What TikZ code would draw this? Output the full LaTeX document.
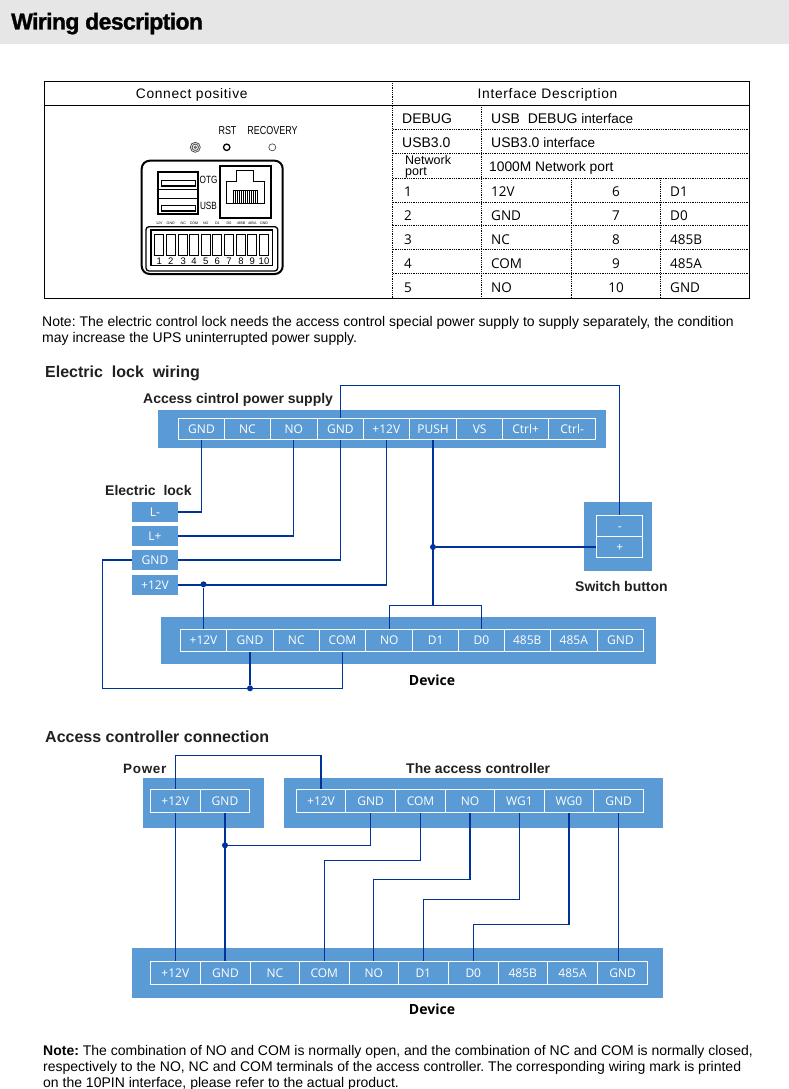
\documentclass[tikz,border=0pt]{standalone}
\usepackage{fontspec}
\setmainfont{Liberation Sans}
\newfontfamily\cellfont{Open Sans}
\newfontfamily\spacedfont[LetterSpace=5]{Liberation Sans}
\newfontfamily\narrowfont[FakeStretch=0.78]{Liberation Sans}
\newfontfamily\titlefont[LetterSpace=-2.7,BoldFeatures={FakeBold=1.2}]{Liberation Sans}
\definecolor{stripblue}{HTML}{5B9BD5}
\definecolor{wireblue}{HTML}{003399}
\definecolor{headgray}{HTML}{E6E6E6}
\definecolor{inkgray}{HTML}{231F20}
\tikzset{
  strip/.style={fill=stripblue,draw=none},
  cell/.style={draw=white,line width=0.8pt,fill=stripblue,text=white,inner sep=0pt,text height=8.7pt,text depth=0pt,font=\cellfont\fontsize{12}{12}\selectfont},
  wire/.style={draw=wireblue,line width=1.2pt},
  junction/.style={circle,fill=wireblue,inner sep=0pt,minimum size=6pt},
  txt/.style={anchor=base west,inner sep=0pt,text=black,font=\fontsize{14}{15}\selectfont},
  hd/.style={anchor=base west,inner sep=0pt,text=inkgray,font=\bfseries\fontsize{16}{17}\selectfont},
  sub/.style={anchor=base west,inner sep=0pt,text=inkgray,font=\bfseries\fontsize{14}{15}\selectfont},
  devlabel/.style={anchor=base,inner sep=0pt,text=black,font=\cellfont\bfseries\fontsize{14}{15}\selectfont},
  tabcell/.style={anchor=base west,inner sep=0pt,text=black,font=\fontsize{14}{15}\selectfont},
  tabseg/.style={anchor=base west,inner sep=0pt,text=black,font=\cellfont\fontsize{13.5}{15}\selectfont},
  rule/.style={draw=black,line width=0.8pt,densely dotted},
  panel/.style={draw=black,line width=2pt},
  tiny/.style={inner sep=0pt,text=black,font=\fontsize{3.6}{4}\selectfont},
}
\begin{document}
\frenchspacing
\begin{tikzpicture}[x=1pt,y=-1pt]
\useasboundingbox (0,0) rectangle (789,1089);
\fill[headgray] (0,0) rectangle (789,44);
\node[anchor=base west,inner sep=0pt,font=\titlefont\bfseries\fontsize{23}{25}\selectfont] (title) at (11,29.5) {Wiring description};

% table
\draw[black,line width=0.8pt] (44.3,81.3) rectangle (749.3,298);
\draw[black,line width=0.8pt] (44.3,105.3) -- (749.3,105.3);
\draw[rule] (392.7,81.3) -- (392.7,298);
\draw[rule] (481.7,105.3) -- (481.7,298);
\draw[rule] (571.3,178.3) -- (571.3,298);
\draw[rule] (660.7,178.3) -- (660.7,298);
\foreach \y in {129.3,153.3,178.3,202.3,225.7,249.3,273.7}
  \draw[rule] (392.7,\y) -- (749.3,\y);
\node[anchor=base,inner sep=0pt,font=\spacedfont\fontsize{13.8}{15}\selectfont] (headA) at (191.7,98.3) {Connect positive};
\node[anchor=base,inner sep=0pt,font=\spacedfont\fontsize{13.8}{15}\selectfont] (headB) at (547.5,98.3) {Interface Description};
\node[tabcell] (debugA) at (402,123.5) {DEBUG};
\node[tabcell] (debugB) at (491,123.5) {USB\ \ DEBUG {\fontsize{13.5}{15}\selectfont interface}};
\node[tabcell] (usbA) at (402,147.5) {USB3.0};
\node[tabcell] (usbB) at (491,147.5) {USB3.0 {\fontsize{13.5}{15}\selectfont interface}};
\node[tabcell,font=\fontsize{12.5}{13}\selectfont] (netA) at (405,164.5) {Network};
\node[tabcell,font=\fontsize{12.5}{13}\selectfont] (netB) at (405,175.5) {port};
\node[tabcell,font=\fontsize{13.8}{15}\selectfont] (netC) at (489,171.5) {1000M Network port};
\foreach \n/\y/\a/\m/\b in {1/196/12V/6/D1,2/220/GND/7/D0,3/244/NC/8/485B,4/268/COM/9/485A,5/292/NO/10/GND}{
  \node[tabseg] (pinA\n) at (404,\y) {\n};
  \node[tabseg] (pinB\n) at (491,\y) {\a};
  \node[tabseg,anchor=base] (pinC\n) at (616,\y) {\m};
  \node[tabseg] (pinD\n) at (670,\y) {\b};
}

% device panel
\node[anchor=base,inner sep=0pt,font=\narrowfont\fontsize{11.5}{12}\selectfont] (rst) at (227.5,135) {RST};
\node[anchor=base,inner sep=0pt,font=\narrowfont\fontsize{11.5}{12}\selectfont] (recovery) at (272.5,135) {RECOVERY};
\draw[black!70,line width=0.8pt] (195.3,147.3) circle (5) circle (3.2);
\fill[black!60] (195.3,147.3) circle (1.8);
\draw[black,line width=1.3pt] (226.7,147.3) circle (3.2);
\draw[black!70,line width=0.7pt] (272.3,147.3) circle (3.5);
\draw[panel,rounded corners=8pt] (141.7,160.7) rectangle (282.7,274);
\draw[panel] (157.5,171.5) rectangle (197.5,214.3);
\draw[black,line width=1.3pt] (157.5,189.5) -- (197.5,189.5) (157.5,198.5) -- (197.5,198.5);
\draw[black,line width=0.9pt] (161,180.3) rectangle (195,186.7) (161,205.6) rectangle (195,211.7);
\fill[black] (161,185) rectangle (195,186.7) (161,210) rectangle (195,211.7);
\node[anchor=base,inner sep=0pt,font=\narrowfont\fontsize{10.5}{11}\selectfont] (otg) at (208.5,183) {OTG};
\node[anchor=base,inner sep=0pt,font=\narrowfont\fontsize{10.5}{11}\selectfont] (usb) at (208.5,209) {USB};
\draw[panel] (220.3,166) rectangle (270.7,218.3);
\draw[black,line width=0.9pt] (226,203.3) -- (226,181) -- (236.7,181) -- (236.7,170) -- (253.3,170) -- (253.3,181) -- (264.3,181) -- (264.3,203.3) -- cycle;
\foreach \x in {233.5,235.5,...,257.5}
  \draw[black,line width=0.8pt] (\x,190) -- (\x,203.3);
\draw[black,line width=0.6pt] (233.5,190) -- (257.5,190);
\draw[black,line width=1.3pt,rounded corners=3pt] (146,226.7) rectangle (277.7,271);
\draw[black,line width=1.3pt] (151,230) rectangle (272.3,265.7);
\foreach \n/\x/\lab in {1/159.3/12V,2/170.7/GND,3/183.3/NC,4/194/COM,5/205.7/NO,6/217.3/D1,7/229/D0,8/241/485B,9/252.3/485A,10/264/GND}{
  \draw[black,line width=0.8pt] (\x-4.5,234.3) rectangle (\x+4.5,255.7);
  \node[anchor=base,inner sep=0pt,font=\fontsize{9.5}{10}\selectfont] (slot\n) at (\x,264) {\n};
  \node[tiny] (tag\n) at (\x,223) {\lab};
}

% first note
\node[txt] (noteA) at (42,326) {Note: The electric control lock needs the access control special power supply to supply separately, the condition};
\node[txt] (noteB) at (42,342) {may increase the UPS uninterrupted power supply.};

% electric lock wiring
\node[hd] (wiringhd) at (45,377.5) {Electric\ \ lock\ \ wiring};
\node[sub] (supplyhd) at (143,403) {Access cintrol power supply};
\node[sub] (lockhd) at (105,495) {Electric\ \ lock};
\node[sub] (switchhd) at (575,591) {Switch button};
\node[devlabel] (devhdA) at (432,685) {Device};

\fill[strip] (158,410) rectangle (606,448);
\foreach \id/\xa/\xb/\lab in {A/178.3/224.7/GND,B/224.7/270.3/NC,C/270.3/317.3/NO,D/317.3/363.3/GND,E/363.3/409.3/+12V,F/409.3/456.7/PUSH,G/456.7/502.7/VS,H/502.7/548.7/Ctrl+,I/548.7/595.7/Ctrl-}
  \node[cell,minimum width={\xb-\xa},minimum height=21pt] (sup\id) at ({(\xa+\xb)/2},428.8) {\lab};

\foreach \id/\ya/\lab in {Lm/502/L-,Lp/526/L+,Gnd/550/GND,Pos/575/+12V}
  \node[cell,draw=none,minimum width=46pt,minimum height=20pt] (lock\id) at (155,\ya+10) {\lab};

\fill[strip] (584,502) rectangle (652,571);
\node[cell,minimum width=46pt,minimum height=21.2pt] (swMinus) at (619.7,525.9) {-};
\node[cell,minimum width=46pt,minimum height=21.2pt] (swPlus) at (619.7,547) {+};

\fill[strip] (161,617) rectangle (656,664);
\foreach \id/\xa/\xb/\lab in {A/180.3/226.7/+12V,B/226.7/273.3/GND,C/273.3/319.3/NC,D/319.3/365.7/COM,E/365.7/412.7/NO,F/412.7/458.7/D1,G/458.7/504.3/D0,H/504.3/550.3/485B,I/550.3/597.3/485A,J/597.3/643.7/GND}
  \node[cell,minimum width={\xb-\xa},minimum height=22pt] (dev\id) at ({(\xa+\xb)/2},640.3) {\lab};

\coordinate (topA) at (340.3,385.3);
\coordinate (lowA) at (102.3,688.3);
\coordinate (busA) at (433,605.3);
\node[junction] (dotPos) at (203.5,584.3) {};
\node[junction] (dotPush) at (433,547) {};
\node[junction] (dotGnd) at (250,688.3) {};

\draw[wire] (supA.south) |- (lockLm.east);
\draw[wire] (supC.south) |- (lockLp.east);
\draw[wire] (supD.south) |- (lockGnd.east);
\draw[wire] (supE.south) |- (lockPos.east);
\draw[wire] (supD.north) -- (topA) -| (swMinus.north);
\draw[wire] (supF.south) -- (busA);
\draw[wire] (dotPush) -- (swPlus.west);
\draw[wire] (devE.north) |- (busA) -| (devG.north);
\draw[wire] (dotPos) -- (devA.north);
\draw[wire] (lockGnd.west) -| (lowA) -| (devD.south);
\draw[wire] (dotGnd) -- (devB.south);

% access controller connection
\node[hd] (accesshd) at (45,742.5) {Access controller connection};
\node[anchor=base west,inner sep=0pt,text=inkgray,font=\spacedfont\bfseries\fontsize{13.5}{15}\selectfont] (powerhd) at (123,773) {Power};
\node[sub] (ctrlhd) at (406,773) {The access controller};
\node[devlabel] (devhdB) at (432,1014) {Device};

\fill[strip] (143,778) rectangle (264,828);
\fill[strip] (284,778) rectangle (663,828);
\fill[strip] (132,948) rectangle (663,997.7);
\foreach \id/\xa/\xb/\lab in {A/150.3/200.3/+12V,B/200.3/249.7/GND}
  \node[cell,minimum width={\xb-\xa},minimum height=23pt] (pow\id) at ({(\xa+\xb)/2},800.8) {\lab};
\foreach \id/\xa/\xb/\lab in {A/296.3/345.7/+12V,B/345.7/395.7/GND,C/395.7/445.3/COM,D/445.3/494.7/NO,E/494.7/544.3/WG1,F/544.3/593.7/WG0,G/593.7/643.7/GND}
  \node[cell,minimum width={\xb-\xa},minimum height=23pt] (acc\id) at ({(\xa+\xb)/2},800.8) {\lab};
\foreach \id/\xa/\xb/\lab in {A/150.3/200.3/+12V,B/200.3/250.7/GND,C/250.7/299.3/NC,D/299.3/349.3/COM,E/349.3/398.3/NO,F/398.3/448.3/D1,G/448.3/498.3/D0,H/498.3/547.3/485B,I/547.3/597.7/485A,J/597.7/647.7/GND}
  \node[cell,minimum width={\xb-\xa},minimum height=22.6pt] (term\id) at ({(\xa+\xb)/2},973) {\lab};

\coordinate (topB) at (175.3,755.3);
\coordinate (turnC) at (324.3,860.3);
\coordinate (turnD) at (374.3,879.3);
\coordinate (turnE) at (423.3,899.3);
\coordinate (turnF) at (473.3,924.3);
\node[junction] (dotPow) at (225,845.3) {};

\draw[wire] (powA.north) -- (topB) -| (accA.north);
\draw[wire] (powA.south) -- (termA.north);
\draw[wire] (powB.south) -- (powB.south |- termB.north);
\draw[wire] (dotPow) -| (accB.south);
\draw[wire] (accC.south) |- (termD.north |- turnC) -- (termD.north);
\draw[wire] (accD.south) |- (termE.north |- turnD) -- (termE.north);
\draw[wire] (accE.south) |- (termF.north |- turnE) -- (termF.north);
\draw[wire] (accF.south) |- (termG.north |- turnF) -- (termG.north);
\draw[wire] (accG.south) -- (accG.south |- termJ.north);

% bottom note
\node[txt] (endA) at (43,1055) {\textbf{Note:} The combination of NO and COM is normally open, and the combination of NC and COM is normally closed,};
\node[txt] (endB) at (43,1071) {respectively to the NO, NC and COM terminals of the access controller. The corresponding wiring mark is printed};
\node[txt] (endC) at (43,1087) {on the 10PIN interface, please refer to the actual product.};
\end{tikzpicture}
\end{document}
